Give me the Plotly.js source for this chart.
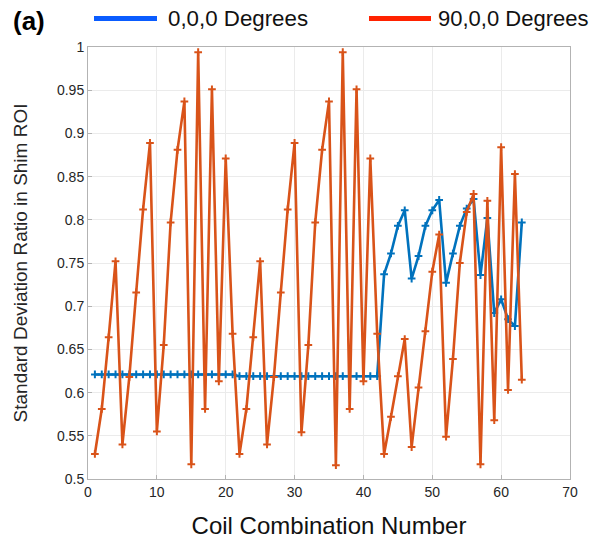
<!DOCTYPE html>
<html>
<head>
<meta charset="utf-8">
<script src="https://cdn.plot.ly/plotly-3.0.1.min.js"></script>
<style>html,body{margin:0;padding:0;background:#fff;}#chart{width:605px;height:546px;}</style>
</head>
<body>
<div id="chart"></div>
<script>
// Coil combination numbers 1..63
const coilNumbers = [1,2,3,4,5,6,7,8,9,10,11,12,13,14,15,16,17,18,19,20,21,
  22,23,24,25,26,27,28,29,30,31,32,33,34,35,36,37,38,39,40,41,42,
  43,44,45,46,47,48,49,50,51,52,53,54,55,56,57,58,59,60,61,62,63];

const series000 = [0.621,0.621,0.621,0.621,0.621,0.621,0.621,0.621,0.621,0.621,0.621,
  0.621,0.621,0.621,0.621,0.621,0.621,0.621,0.621,0.621,0.621,
  0.619,0.619,0.619,0.619,0.619,0.619,0.619,0.619,0.619,0.619,0.619,
  0.619,0.619,0.619,0.619,0.619,0.619,0.619,0.619,0.619,0.619,
  0.737,0.761,0.793,0.811,0.732,0.758,0.793,0.811,0.823,0.727,0.761,
  0.793,0.813,0.824,0.736,0.802,0.692,0.708,0.685,0.677,0.797];

const series9000 = [0.529,0.581,0.664,0.752,0.540,0.618,0.716,0.812,0.889,0.555,0.655,
  0.797,0.881,0.937,0.517,0.994,0.581,0.951,0.613,0.871,0.668,
  0.529,0.581,0.664,0.752,0.540,0.618,0.716,0.812,0.889,0.554,0.655,
  0.797,0.881,0.937,0.516,0.994,0.581,0.951,0.613,0.871,0.668,
  0.529,0.572,0.619,0.662,0.537,0.606,0.671,0.740,0.783,0.549,0.639,
  0.750,0.809,0.830,0.517,0.822,0.568,0.884,0.603,0.853,0.615];

const seriesNames = ['0,0,0 Degrees', '90,0,0 Degrees'];
const xTickVals = [0,10,20,30,40,50,60,70];
const yTickVals = [0.5,0.55,0.6,0.65,0.7,0.75,0.8,0.85,0.9,0.95,1];
const yTickText = ['0.5','0.55','0.6','0.65','0.7','0.75','0.8','0.85','0.9','0.95','1'];

const font = 'Liberation Sans, Arial, Helvetica, sans-serif';
const lineBlue = '#0072BD', lineOrange = '#D95319';
const legBlue = '#0a5cff', legRed = '#ff2200';

const mk = (c) => ({symbol:'cross-thin', size:5.5, color:c, line:{color:c, width:2}});

const traces = [
  {x: coilNumbers, y: series000, name: seriesNames[0], type:'scatter', mode:'lines+markers',
   line:{color:lineBlue, width:2.6}, marker: mk(lineBlue), showlegend:false},
  {x: coilNumbers, y: series9000, name: seriesNames[1], type:'scatter', mode:'lines+markers',
   line:{color:lineOrange, width:2.6}, marker: mk(lineOrange), showlegend:false}
];

const L = 88, R = 570, T = 47, B = 479;
const px = (p) => (p - L) / (R - L);
const py = (p) => (B - p) / (B - T);

const layout = {
  width:605, height:546,
  margin:{l:L, r:605-R, t:T, b:546-B},
  paper_bgcolor:'#fff', plot_bgcolor:'#fff',
  font:{family:font, color:'#262626'},
  showlegend:false,
  xaxis:{range:[0,70], tickvals:xTickVals, showgrid:true, gridcolor:'#ebebeb', gridwidth:1,
    zeroline:false, showline:true, mirror:true, linecolor:'#b3b3b3', linewidth:1,
    ticks:'inside', ticklen:4, tickcolor:'#b3b3b3',
    tickfont:{size:14, color:'#262626', family:font},
    title:{text:'Coil Combination Number', font:{size:24, color:'#111', family:font}, standoff:18}},
  yaxis:{range:[0.5,1], tickvals:yTickVals, ticktext:yTickText, showgrid:true, gridcolor:'#ebebeb', gridwidth:1,
    zeroline:false, showline:true, mirror:true, linecolor:'#b3b3b3', linewidth:1,
    ticks:'inside', ticklen:4, tickcolor:'#b3b3b3',
    tickfont:{size:14, color:'#262626', family:font},
    title:{text:'Standard Deviation Ratio in Shim ROI', font:{size:19, color:'#262626', family:font}, standoff:24}},
  shapes:[
    {type:'line', xref:'paper', yref:'paper', x0:px(94), x1:px(157), y0:py(18.5), y1:py(18.5), line:{color:legBlue, width:5}},
    {type:'line', xref:'paper', yref:'paper', x0:px(369), x1:px(431), y0:py(18.5), y1:py(18.5), line:{color:legRed, width:5}}
  ],
  annotations:[
    {text:'<b>(a)</b>', xref:'paper', yref:'paper', x:px(11), y:py(21), xanchor:'left', yanchor:'middle', showarrow:false,
     font:{size:26, color:'#000', family:font}},
    {text:seriesNames[0], xref:'paper', yref:'paper', x:px(166), y:py(19), xanchor:'left', yanchor:'middle', showarrow:false,
     font:{size:22.3, color:'#111', family:font}},
    {text:seriesNames[1], xref:'paper', yref:'paper', x:px(436), y:py(19), xanchor:'left', yanchor:'middle', showarrow:false,
     font:{size:22, color:'#111', family:font}}
  ]
};

Plotly.newPlot('chart', traces, layout, {displayModeBar:false, staticPlot:true});
</script>
</body>
</html>
